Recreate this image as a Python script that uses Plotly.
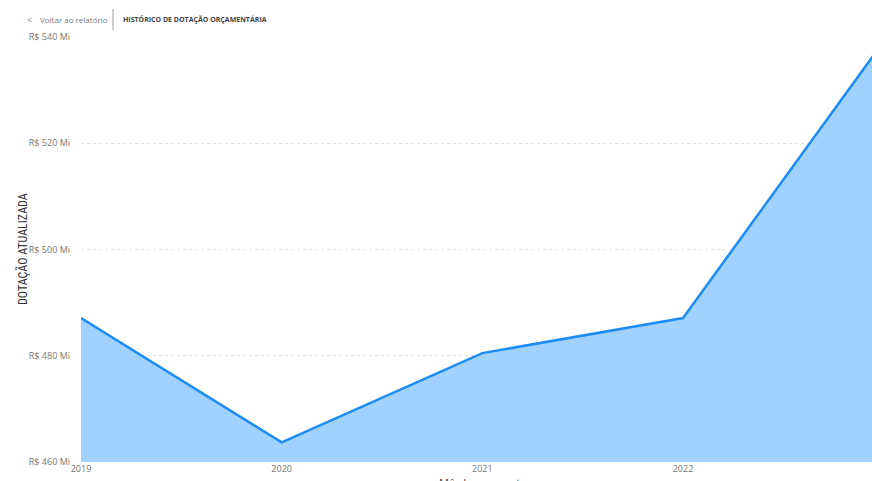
import plotly.graph_objects as go

years = [2019, 2020, 2021, 2022, 2023]
dotacao_mi = [487.1, 463.7, 480.5, 487.1, 539.2]
ytick_vals = [460, 480, 500, 520, 540]
ytick_text = ["R$ 460 Mi", "R$ 480 Mi", "R$ 500 Mi", "R$ 520 Mi", "R$ 540 Mi"]
xtick_vals = [2019, 2020, 2021, 2022]

W, H = 872, 481
L, R, T, B = 81, 0, 37, 19
pw, ph = W - L - R, H - T - B

def px(x):
    return (x - L) / pw

def py(y):
    return (H - B - y) / ph

fig = go.Figure()
fig.add_trace(go.Scatter(
    x=years, y=dotacao_mi, mode="lines",
    line=dict(color="#1E8CF5", width=2.5),
    fill="tozeroy", fillcolor="#A1D1FF",
    hoverinfo="skip",
))

font_main = "Open Sans, Noto Sans, sans-serif"
fig.update_layout(
    width=W, height=H,
    margin=dict(l=L, r=R, t=T, b=B),
    paper_bgcolor="white", plot_bgcolor="white",
    showlegend=False,
    hovermode=False,
    xaxis=dict(
        range=[2019, 2019 + (872 - 81) / 200.67],
        tickvals=xtick_vals, ticktext=[str(v) for v in xtick_vals],
        showgrid=False, zeroline=False, showline=False,
        tickfont=dict(family=font_main, size=9, color="#777777"),
        ticks="", ticklen=0,
    ),
    yaxis=dict(
        range=[460, 540],
        tickvals=ytick_vals, ticktext=ytick_text,
        showgrid=True, gridcolor="#E2E2E2", griddash="dot", gridwidth=1,
        zeroline=False, showline=False,
        tickfont=dict(family=font_main, size=9, color="#777777"),
        ticks="", ticklabelstandoff=10,
    ),
    annotations=[
        dict(xref="paper", yref="paper", x=px(25), y=py(19), text="<",
             showarrow=False, xanchor="left", yanchor="middle",
             font=dict(family=font_main, size=9, color="#888888")),
        dict(xref="paper", yref="paper", x=px(38), y=py(19), text="Voltar ao relatório",
             showarrow=False, xanchor="left", yanchor="middle",
             font=dict(family=font_main, size=8, color="#777777")),
        dict(xref="paper", yref="paper", x=px(121), y=py(19), text="<b>HISTÓRICO DE DOTAÇÃO ORÇAMENTÁRIA</b>",
             showarrow=False, xanchor="left", yanchor="middle",
             font=dict(family=font_main, size=7, color="#444444")),
        dict(xref="paper", yref="paper", x=px(22), y=py(249), text="DOTAÇÃO ATUALIZADA",
             showarrow=False, xanchor="center", yanchor="middle", textangle=-90,
             font=dict(family="Liberation Sans Narrow, Roboto Condensed, Roboto, sans-serif", size=12, color="#333333")),
        dict(xref="paper", yref="paper", x=px(483), y=py(473), text="Mês Lançamento",
             showarrow=False, xanchor="center", yanchor="top",
             font=dict(family=font_main, size=11, color="#444444")),
    ],
    shapes=[
        dict(type="line", xref="paper", yref="paper",
             x0=px(113), x1=px(113), y0=py(9), y1=py(30),
             line=dict(color="#999999", width=1)),
    ],
)

fig.write_html(
    "out.html",
    config={"displayModeBar": False, "staticPlot": True},
    post_script="document.body.style.margin='0';document.body.style.overflow='hidden';",
)
